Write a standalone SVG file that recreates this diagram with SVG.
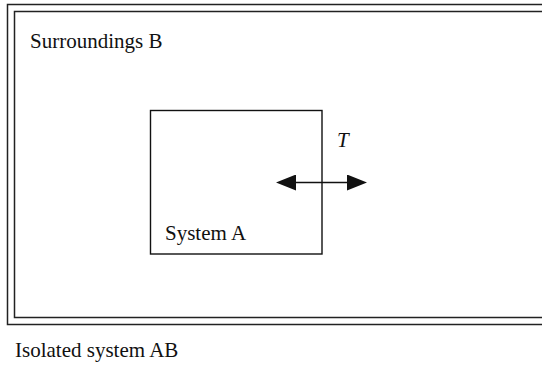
<svg xmlns="http://www.w3.org/2000/svg" width="542" height="368" viewBox="0 0 542 368">
<style>
.frame{fill:none;stroke:#222;stroke-width:1.5}
.box{fill:none;stroke:#111;stroke-width:1.4}
.lbl{font-family:"Liberation Serif","Times New Roman",serif;font-size:21px;fill:#111}
.it{font-style:italic}
.conn{stroke:#111;stroke-width:1.4;fill:none}
</style>
<defs>
<marker id="ah" viewBox="0 0 20 16" refX="0" refY="8" markerWidth="20" markerHeight="16" markerUnits="userSpaceOnUse" orient="auto-start-reverse">
<polygon points="0,0 20,8 0,16" fill="#111"/>
</marker>
</defs>
<g id="isolated-system-AB">
<rect class="frame" x="7.5" y="4.5" width="560" height="320"/>
<text class="lbl" x="15" y="357">Isolated system AB</text>
</g>
<g id="surroundings-B">
<rect class="frame" x="14.5" y="11.5" width="560" height="306"/>
<text class="lbl" x="30" y="48">Surroundings B</text>
</g>
<g id="system-A">
<rect class="box" x="150.5" y="110.5" width="171.5" height="143.5"/>
<text class="lbl" x="165" y="240">System A</text>
</g>
<g id="connectors">
<line class="conn" x1="296" y1="182.5" x2="347" y2="182.5" marker-start="url(#ah)" marker-end="url(#ah)"/>
<text class="lbl it" x="337" y="147">T</text>
</g>
</svg>
